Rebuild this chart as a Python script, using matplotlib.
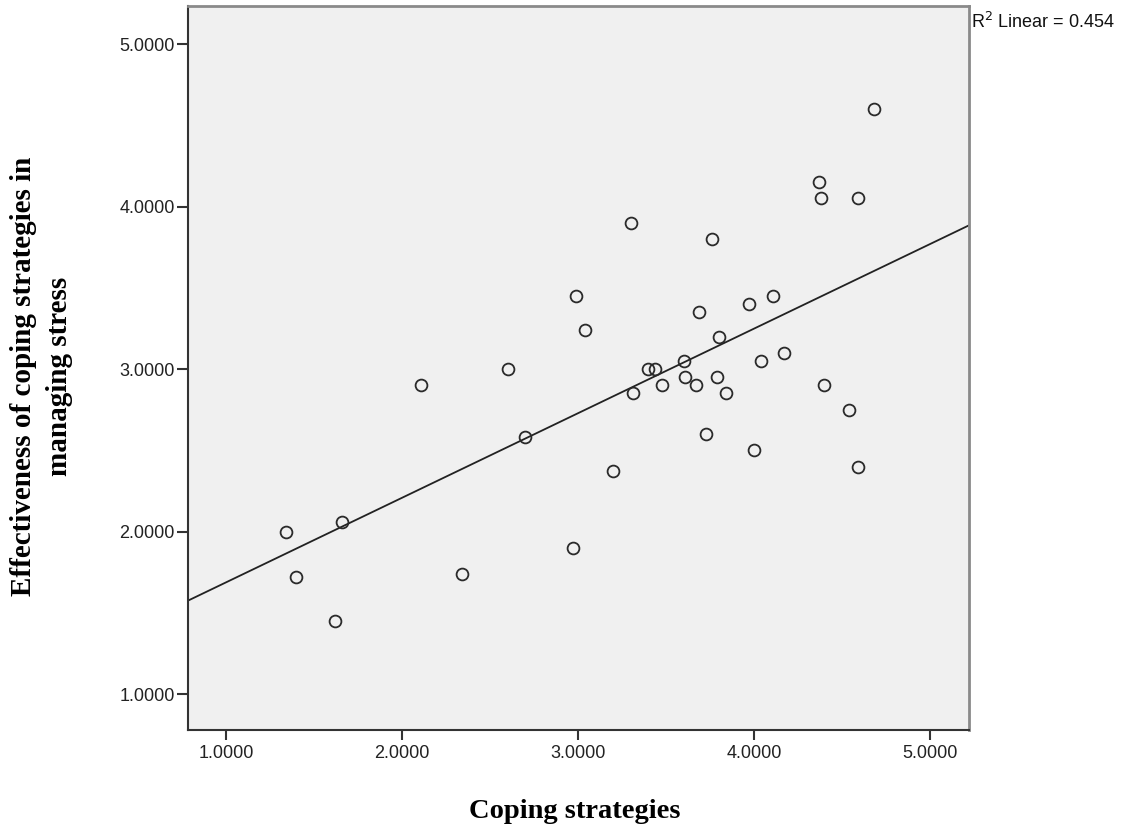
import numpy as np
import matplotlib
matplotlib.use("Agg")
import matplotlib.pyplot as plt

# Data
coping = [1.34, 1.40, 1.62, 1.66, 2.11, 2.34, 2.60, 2.70, 2.97, 2.99,
          3.04, 3.20, 3.30, 3.31, 3.40, 3.44, 3.48, 3.60, 3.61, 3.67,
          3.69, 3.73, 3.76, 3.79, 3.80, 3.84, 3.97, 4.00, 4.04, 4.11,
          4.17, 4.37, 4.38, 4.40, 4.54, 4.59, 4.59, 4.68]
effectiveness = [2.00, 1.72, 1.45, 2.06, 2.90, 1.74, 3.00, 2.58, 1.90, 3.45,
                 3.24, 2.37, 3.90, 2.85, 3.00, 3.00, 2.90, 3.05, 2.95, 2.90,
                 3.35, 2.60, 3.80, 2.95, 3.20, 2.85, 3.40, 2.50, 3.05, 3.45,
                 3.10, 4.15, 4.05, 2.90, 2.75, 4.05, 2.40, 4.60]
x_ticks = [1.0, 2.0, 3.0, 4.0, 5.0]
y_ticks = [1.0, 2.0, 3.0, 4.0, 5.0]
tick_labels = ["1.0000", "2.0000", "3.0000", "4.0000", "5.0000"]
x_label = "Coping strategies"
y_label = "Effectiveness of coping strategies in\nmanaging stress"
r2_label = r"R$^2$ Linear = 0.454"

fig = plt.figure(figsize=(11.22, 8.26), dpi=100)
ax = fig.add_axes([188/1122, 1 - 730/826, (969-188)/1122, (730-6)/826])
ax.set_facecolor("#F0F0F0")

xlim = (0.784, 5.2216)
ylim = (0.7785, 5.234)
ax.set_xlim(*xlim)
ax.set_ylim(*ylim)

x = np.array(coping)
y = np.array(effectiveness)
slope, intercept = np.polyfit(x, y, 1)
xl = np.array(xlim)
ax.plot(xl, intercept + slope * xl, color="#222222", lw=1.3, zorder=2)

ax.plot(x, y, linestyle="none", marker="o", markersize=8.5,
        markerfacecolor="none", markeredgecolor="#2a2a2a",
        markeredgewidth=1.3, zorder=3)

ax.set_xticks(x_ticks)
ax.set_xticklabels(tick_labels)
ax.set_yticks(y_ticks)
ax.set_yticklabels(tick_labels)
for lab in ax.get_xticklabels() + ax.get_yticklabels():
    lab.set_fontfamily("Liberation Sans")
    lab.set_fontsize(13)
    lab.set_color("#222222")
ax.tick_params(axis="x", length=7, width=1.5, color="#333333", pad=4)
ax.tick_params(axis="y", length=8, width=1.5, color="#333333", pad=1.5)

for side in ("left", "bottom"):
    ax.spines[side].set_color("#333333")
    ax.spines[side].set_linewidth(1.5)
for side in ("top", "right"):
    ax.spines[side].set_color("#8a8a8a")
    ax.spines[side].set_linewidth(2)

fig.text(971/1122, 1 - 28/826, r2_label, fontsize=13,
         family="Liberation Sans", ha="left", va="baseline", color="#111111")

fig.text(574.5/1122, 1 - 818/826, x_label, fontsize=20.5,
         family="Liberation Serif", weight="bold", ha="center", va="baseline")
fig.text(41.5/1122, 1 - 376/826, y_label, fontsize=21,
         family="Liberation Serif", weight="bold", rotation=90,
         ha="center", va="center", multialignment="center", linespacing=1.4)

fig.savefig("out.png", dpi=100, facecolor="white")
